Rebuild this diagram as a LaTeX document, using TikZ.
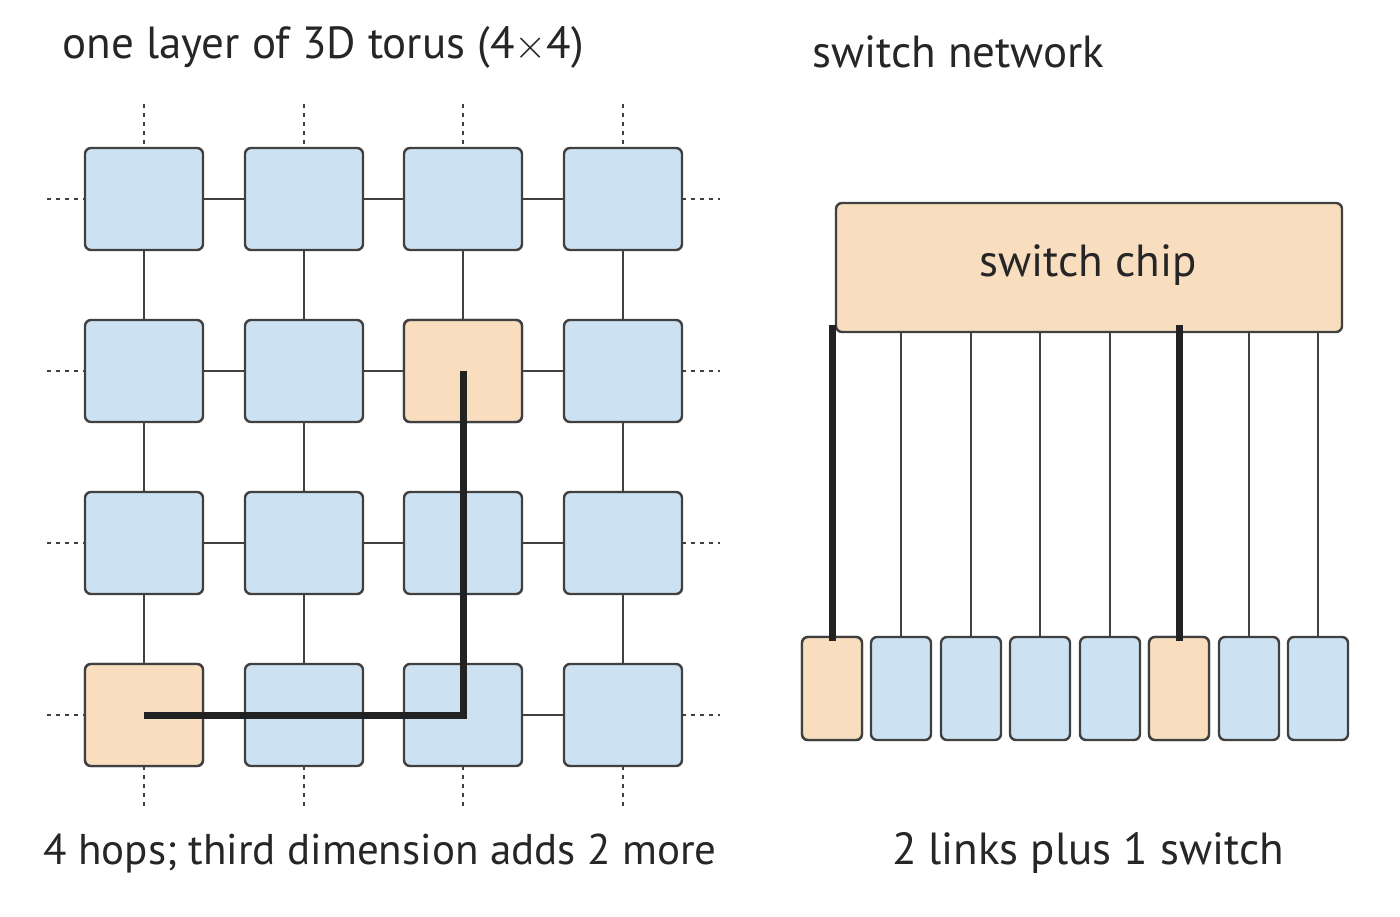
\documentclass[tikz,border=0pt]{standalone}
\usepackage{fontspec}
\setmainfont{PT Sans}
\usetikzlibrary{calc}
\begin{document}
\begin{tikzpicture}[x=0.5pt,y=-0.5pt,
  blue/.style={draw=black!75,line width=1.2pt,fill={rgb,255:red,204;green,226;blue,242},rounded corners=3pt},
  org/.style={draw=black!75,line width=1.2pt,fill={rgb,255:red,248;green,221;blue,191},rounded corners=3pt},
  gb/.style={minimum width=59pt,minimum height=51pt,inner sep=0pt},
  sb/.style={minimum width=30pt,minimum height=51.5pt,inner sep=0pt},
  ln/.style={draw=black!75,line width=1pt},
  dt/.style={draw=black!75,line width=1pt,dash pattern=on 2pt off 2.5pt},
  thk/.style={draw={rgb,255:red,34;green,34;blue,34},line width=3.5pt},
  lab/.style={font=\fontsize{22.5}{26}\selectfont,text=black!85,inner sep=0pt}]
\useasboundingbox (0,0) rectangle (1400,916);
\foreach \c/\x in {1/144,2/304,3/463,4/623}{
  \foreach \r/\y in {1/199,2/371,3/543,4/715}{
    \coordinate (p\c\r) at (\x,\y);
  }
}
% connectors and dotted stubs
\foreach \r in {1,2,3,4}{
  \draw[ln] (p1\r) -- (p4\r);
  \draw[dt] ($(p1\r)+(-97,0)$) -- ($(p1\r)+(-59,0)$);
  \draw[dt] ($(p4\r)+(59,0)$) -- ($(p4\r)+(97,0)$);
}
\foreach \c in {1,2,3,4}{
  \draw[ln] (p\c1) -- (p\c4);
  \draw[dt] ($(p\c1)+(0,-95)$) -- ($(p\c1)+(0,-51)$);
  \draw[dt] ($(p\c4)+(0,51)$) -- ($(p\c4)+(0,95)$);
}
% grid nodes
\foreach \c in {1,2,3,4}{
  \foreach \r in {1,2,3,4}{
    \node[blue,gb] (n\c\r) at (p\c\r) {};
  }
}
\node[org,gb] (n32) at (p32) {};
\node[org,gb] (n14) at (p14) {};
\draw[thk] (n14.center) -- (n34.center) -- (n32.center);
% switch
\node[org,minimum width=253pt,minimum height=64.5pt,inner sep=0pt] (chip) at (1089,267.5) {};
\node[lab] at (1088,265) {switch chip};
\foreach \i/\x in {1/832,2/901,3/971,4/1040,5/1110,6/1179,7/1249,8/1318}{
  \coordinate (t\i) at (\x,332);
  \node[blue,sb] (s\i) at (\x,688.5) {};
  \draw[ln] (t\i) -- (s\i.north);
}
\node[org,sb] (s1) at (832,688.5) {};
\node[org,sb] (s6) at (1179,688.5) {};
\coordinate (u1) at (832,325);
\coordinate (u6) at (1179,325);
\draw[thk] (u1) -- ($(s1.north)+(0,5)$);
\draw[thk] (u6) -- ($(s6.north)+(0,5)$);
% labels
\node[lab,anchor=west] at (62,47) {one layer of 3D torus (4$\times$4)};
\node[lab,anchor=west] at (812,52) {switch network};
\node[lab,font=\fontsize{21.5}{25}\selectfont] at (380,853) {4 hops; third dimension adds 2 more};
\node[lab] at (1088,853) {2 links plus 1 switch};
\end{tikzpicture}
\end{document}
